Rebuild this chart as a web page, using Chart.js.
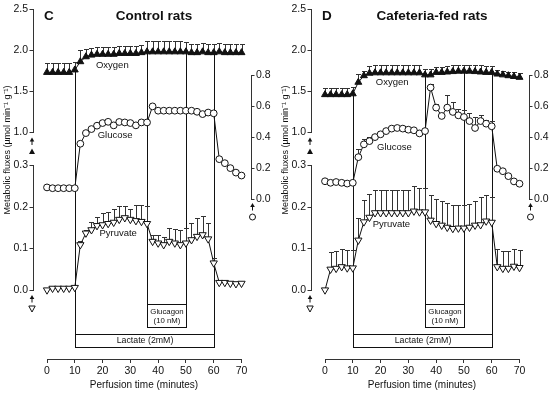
<!DOCTYPE html>
<html><head><meta charset="utf-8">
<script src="https://cdn.jsdelivr.net/npm/chart.js@4/dist/chart.umd.min.js"></script>
<style>
html,body{margin:0;padding:0;background:#fff;}
#wrap{position:relative;width:550px;height:394px;overflow:hidden;background:#fff;}
canvas{position:absolute;top:0;}
#c1{left:0;}
#c2{left:278px;}
</style></head><body>
<div id="wrap"><canvas id="c1" width="278" height="394"></canvas><canvas id="c2" width="272" height="394"></canvas></div>
<script>
// ---------- data ----------
const times = [0,2,4,6,8,10,12,14,16,18,20,22,24,26,28,30,32,34,36,38,40,42,44,46,48,50,52,54,56,58,60,62,64,66,68,70];

const controlOxygen = [1.73,1.73,1.73,1.73,1.73,1.76, 1.86,1.92,1.94,1.95,1.95,1.95,1.95,1.96,1.96,1.96,1.96,1.97, 1.98,1.98,1.98,1.98,1.98,1.98,1.98,1.98, 1.97,1.97,1.98,1.97,1.97,1.98,1.97,1.97,1.97,1.97];
const controlOxygenErr = [0.11,0.11,0.11,0.11,0.11,0.10, 0.14,0.10,0.09,0.09,0.09,0.09,0.09,0.09,0.09,0.09,0.09,0.09, 0.13,0.13,0.13,0.13,0.13,0.13,0.13,0.12, 0.11,0.11,0.11,0.11,0.11,0.11,0.11,0.11,0.11,0.11];
const controlGlucose = [0.075,0.07,0.07,0.07,0.07,0.07, 0.358,0.427,0.453,0.475,0.492,0.50,0.477,0.499,0.496,0.492,0.477,0.496,0.496, 0.60,0.572,0.572,0.572,0.572,0.572,0.572,0.572,0.565,0.55,0.56,0.555, 0.258,0.232,0.20,0.171,0.152];
const controlGlucoseErr = [0,0,0,0,0,0, 0,0,0,0,0,0,0,0,0,0,0,0,0, 0,0,0,0,0,0,0,0,0,0,0,0, 0,0,0,0,0];
const controlPyruvate = [0.0,0.004,0.004,0.004,0.004,0.006, 0.109,0.137,0.145,0.155,0.157,0.160,0.163,0.170,0.174,0.170,0.167,0.165,0.160, 0.117,0.113,0.109,0.117,0.113,0.109,0.113,0.121,0.129,0.133,0.123,0.065, 0.018,0.018,0.016,0.015,0.016];
const controlPyruvateErr = [0,0,0,0,0,0, 0.008,0.008,0.019,0.021,0.029,0.028,0.031,0.032,0.029,0.025,0.039,0.041,0.042, 0.016,0.020,0.019,0.032,0.034,0.036,0.036,0.040,0.045,0.045,0.038,0.012, 0,0,0,0,0];

const cafOxygen = [1.46,1.46,1.46,1.46,1.46,1.47, 1.61,1.69,1.72,1.725,1.725,1.725,1.725,1.725,1.725,1.725,1.725,1.725, 1.70,1.70, 1.73,1.73,1.735,1.74,1.745,1.745,1.745,1.74,1.735,1.73,1.73, 1.71,1.70,1.69,1.68,1.67];
const cafOxygenErr = [0.08,0.08,0.08,0.08,0.08,0.08, 0.10,0.06,0.09,0.09,0.09,0.09,0.09,0.09,0.09,0.09,0.09,0.09, 0.07,0.07, 0.07,0.07,0.07,0.075,0.08,0.08,0.08,0.08,0.08,0.08,0.08, 0.05,0.05,0.05,0.05,0.05];
const cafGlucose = [0.115,0.105,0.11,0.105,0.10,0.105, 0.271,0.354,0.375,0.401,0.419,0.44,0.456,0.46,0.456,0.449,0.445,0.425,0.44, 0.722,0.592,0.538,0.592,0.564,0.542,0.531,0.505,0.46,0.505,0.488,0.471, 0.196,0.18,0.148,0.114,0.099];
const cafGlucoseErr = [0.012,0.01,0.01,0.008,0.008,0.008, 0.054,0.035,0.026,0.01,0.01,0.01,0.01,0.01,0.01,0.01,0.01,0.01,0.01, 0.026,0.026,0,0.08,0.065,0.043,0.043,0.054,0.071,0.037,0.022,0.032, 0,0,0,0,0];
const cafPyruvate = [0.0,0.05,0.052,0.056,0.053,0.053, 0.12,0.164,0.175,0.186,0.186,0.186,0.186,0.186,0.186,0.186,0.19,0.188,0.188, 0.168,0.16,0.156,0.151,0.148,0.149,0.149,0.151,0.156,0.157,0.166,0.163, 0.056,0.052,0.052,0.057,0.054];
const cafPyruvateErr = [0,0.042,0.043,0.042,0.044,0.044, 0.054,0.054,0.056,0.056,0.056,0.056,0.056,0.056,0.056,0.056,0.06,0.058,0.058, 0.062,0.06,0.058,0.059,0.056,0.055,0.055,0.057,0.058,0.066,0.062,0.06, 0.042,0.043,0.042,0.043,0.042];

const timeTicks = [0,10,20,30,40,50,60,70];
const oxygenTicks = [1.0,1.5,2.0,2.5];
const pyruvateTicks = [0.0,0.1,0.2,0.3];
const glucoseTicks = [0.0,0.2,0.4,0.6,0.8];
const lactatePeriod = [10,60];
const glucagonPeriod = [36,50];

// ---------- layout (pixels inside each panel canvas) ----------
const L = {axisL:33, plotL:47, plotR:241.5, axisR:251, o2Top:9, o2Bot:132.5, pyTop:165.5, pyBot:290,
           gluTop:75.5, gluBot:199, xAxisY:359, glucTop:304, glucBot:327, lacTop:334, lacBot:347};
const FONT = '"Liberation Sans", Arial, Helvetica, sans-serif';
const INK = '#111';

function txt(ctx, s, x, y, size, o = {}) {
  ctx.save();
  ctx.font = (o.bold ? 'bold ' : '') + size + 'px ' + FONT;
  ctx.fillStyle = INK;
  ctx.textAlign = o.align || 'center';
  ctx.textBaseline = 'middle';
  if (o.rot) { ctx.translate(x, y); ctx.rotate(o.rot); ctx.fillText(s, 0, 0); }
  else ctx.fillText(s, x, y);
  ctx.restore();
}
function arrowUp(ctx, x, yTop, yBot) {
  ctx.beginPath(); ctx.moveTo(x, yBot); ctx.lineTo(x, yTop + 2); ctx.stroke();
  ctx.beginPath(); ctx.moveTo(x, yTop); ctx.lineTo(x - 2.3, yTop + 4); ctx.lineTo(x + 2.3, yTop + 4); ctx.closePath(); ctx.fill();
}

const layoutPlugin = {
  id: 'fixedLayout',
  afterLayout(chart) {
    const h = chart.height, w = chart.width;
    const set = (s, l, t, r, b) => { s.left = l; s.top = t; s.right = r; s.bottom = b; s.width = r - l; s.height = b - t; s.configure(); };
    set(chart.scales.x, L.plotL, L.xAxisY, L.plotR, h);
    set(chart.scales.yO2, 0, L.o2Top, L.axisL, L.o2Bot);
    set(chart.scales.yPyr, 0, L.pyTop, L.axisL, L.pyBot);
    set(chart.scales.yGlu, L.axisR, L.gluTop, w, L.gluBot);
    chart.chartArea = {left: L.plotL, top: 0, right: L.plotR, bottom: L.xAxisY, width: L.plotR - L.plotL, height: L.xAxisY};
  }
};

const decorPlugin = {
  id: 'decor',
  beforeDatasetsDraw(chart) {
    const ctx = chart.ctx, x = chart.scales.x, yO2 = chart.scales.yO2;
    const p = chart.options.plugins.decor;
    ctx.save();
    ctx.strokeStyle = INK; ctx.lineWidth = 1;
    // event lines from oxygen trace down to the boxes
    const ev = [[lactatePeriod[0], L.lacTop], [glucagonPeriod[0], L.glucTop], [glucagonPeriod[1], L.glucTop], [lactatePeriod[1], L.lacTop]];
    ev.forEach(([t, yb]) => {
      const i = times.indexOf(t);
      const px = Math.round(x.getPixelForValue(t)) + 0.5;
      ctx.beginPath(); ctx.moveTo(px, yO2.getPixelForValue(p.oxygen[i])); ctx.lineTo(px, yb); ctx.stroke();
    });
    // error bars (upper only)
    ctx.strokeStyle = '#333';
    chart.data.datasets.forEach(ds => {
      const ys = chart.scales[ds.yAxisID];
      ds.data.forEach((pt, i) => {
        const e = ds.errors[i];
        if (!e) return;
        const px = Math.round(x.getPixelForValue(pt.x)) + 0.5;
        const y0 = ys.getPixelForValue(pt.y), y1 = Math.round(ys.getPixelForValue(pt.y + e)) + 0.5;
        ctx.beginPath(); ctx.moveTo(px, y0); ctx.lineTo(px, y1);
        ctx.moveTo(px - 2.5, y1); ctx.lineTo(px + 2.5, y1); ctx.stroke();
      });
    });
    ctx.restore();
  },
  afterDraw(chart) {
    const ctx = chart.ctx, x = chart.scales.x;
    const p = chart.options.plugins.decor;
    ctx.save();
    ctx.strokeStyle = INK; ctx.fillStyle = INK; ctx.lineWidth = 1;
    // titles
    txt(ctx, p.letter, 44, 16, 13.5, {bold: true, align: 'left'});
    txt(ctx, p.title, 154, 16, 13.5, {bold: true});
    // y-axis title
    txt(ctx, 'Metabolic fluxes (\u00b5mol min\u207b\u00b9 g\u207b\u00b9)', 8, 150, 9, {rot: -Math.PI / 2});
    // x-axis title
    txt(ctx, 'Perfusion time (minutes)', 144, 385, 10);
    // series labels
    const lab = (s, pos, scaleId) => txt(ctx, s, x.getPixelForValue(pos[0]), chart.scales[scaleId].getPixelForValue(pos[1]), 9.5);
    lab('Oxygen', p.labels.oxygen, 'yO2');
    lab('Glucose', p.labels.glucose, 'yGlu');
    lab('Pyruvate', p.labels.pyruvate, 'yPyr');
    // treatment boxes
    const box = (t0, t1, yt, yb) => {
      const a = Math.round(x.getPixelForValue(t0)) + 0.5, b = Math.round(x.getPixelForValue(t1)) + 0.5;
      ctx.fillStyle = '#fff'; ctx.fillRect(a, yt + 0.5, b - a, yb - yt);
      ctx.strokeStyle = INK; ctx.strokeRect(a, yt + 0.5, b - a, yb - yt);
      ctx.fillStyle = INK;
      return (a + b) / 2;
    };
    let cx = box(glucagonPeriod[0], glucagonPeriod[1], L.glucTop, L.glucBot);
    txt(ctx, 'Glucagon', cx, L.glucTop + 7.5, 7.8);
    txt(ctx, '(10 nM)', cx, L.glucTop + 16.5, 7.8);
    cx = box(lactatePeriod[0], lactatePeriod[1], L.lacTop, L.lacBot);
    txt(ctx, 'Lactate (2mM)', cx, (L.lacTop + L.lacBot) / 2 + 0.5, 8.8);
    // axis indicators (arrow + symbol)
    ctx.strokeStyle = INK; ctx.fillStyle = INK;
    const ax = L.axisL - 1;
    arrowUp(ctx, ax, L.o2Bot + 5, L.o2Bot + 12.5);
    ctx.beginPath(); ctx.moveTo(ax, L.o2Bot + 16); ctx.lineTo(ax - 3, L.o2Bot + 21.5); ctx.lineTo(ax + 3, L.o2Bot + 21.5); ctx.closePath(); ctx.fill();
    arrowUp(ctx, ax, L.pyBot + 5, L.pyBot + 12.5);
    ctx.beginPath(); ctx.moveTo(ax - 3.2, L.pyBot + 16); ctx.lineTo(ax + 3.2, L.pyBot + 16); ctx.lineTo(ax, L.pyBot + 22); ctx.closePath();
    ctx.fillStyle = '#fff'; ctx.fill(); ctx.stroke(); ctx.fillStyle = INK;
    const gx = L.axisR + 1.5;
    arrowUp(ctx, gx, L.gluBot + 4, L.gluBot + 11.5);
    ctx.beginPath(); ctx.arc(gx, L.gluBot + 18, 3, 0, Math.PI * 2); ctx.fillStyle = '#fff'; ctx.fill(); ctx.stroke();
    ctx.restore();
  }
};

function tickScale(arr) {
  return function (scale) { scale.ticks = arr.map(v => ({value: v})); };
}
const axisCommon = {
  grid: {drawOnChartArea: false, drawTicks: true, tickLength: 3.5, color: '#333', lineWidth: 1},
  border: {display: true, color: '#333', width: 1},
};

function makePanel(id, d) {
  const series = (vals) => times.map((t, i) => ({x: t, y: vals[i]}));
  const common = {showLine: true, borderColor: INK, borderWidth: 1, tension: 0, clip: false, pointBorderColor: INK, pointBorderWidth: 1, pointHoverRadius: 0};
  return new Chart(document.getElementById(id), {
    type: 'line',
    data: {
      datasets: [
        Object.assign({label: 'Oxygen', data: series(d.oxygen), errors: d.oxygenErr, yAxisID: 'yO2', pointStyle: 'triangle', pointRadius: 4, pointBackgroundColor: INK}, common),
        Object.assign({label: 'Glucose', data: series(d.glucose), errors: d.glucoseErr, yAxisID: 'yGlu', pointStyle: 'circle', pointRadius: 3.4, pointBackgroundColor: '#fff'}, common),
        Object.assign({label: 'Pyruvate', data: series(d.pyruvate), errors: d.pyruvateErr, yAxisID: 'yPyr', pointStyle: 'triangle', pointRotation: 180, pointRadius: 4.2, pointBackgroundColor: '#fff'}, common),
      ]
    },
    options: {
      responsive: false, animation: false, devicePixelRatio: 1,
      events: [],
      layout: {padding: 0},
      plugins: {legend: {display: false}, tooltip: {enabled: false}, title: {display: false},
        decor: {letter: d.letter, title: d.title, oxygen: d.oxygen, labels: d.labels}},
      scales: {
        x: Object.assign({type: 'linear', position: 'bottom', min: 0, max: 70, afterBuildTicks: tickScale(timeTicks),
          ticks: {autoSkip: false, maxRotation: 0, padding: 2, color: INK, font: {family: FONT, size: 10.5}, callback: v => String(v)}}, axisCommon,
          {grid: {drawOnChartArea: false, drawTicks: true, tickLength: 4, color: '#333'}}),
        yO2: Object.assign({type: 'linear', position: 'left', min: 1.0, max: 2.5, afterBuildTicks: tickScale(oxygenTicks),
          ticks: {padding: 1.5, color: INK, font: {family: FONT, size: 10.5}, callback: v => v.toFixed(1)}}, axisCommon),
        yPyr: Object.assign({type: 'linear', position: 'left', min: 0, max: 0.3, afterBuildTicks: tickScale(pyruvateTicks),
          ticks: {padding: 1.5, color: INK, font: {family: FONT, size: 10.5}, callback: v => v.toFixed(1)}}, axisCommon),
        yGlu: Object.assign({type: 'linear', position: 'right', min: 0, max: 0.8, afterBuildTicks: tickScale(glucoseTicks),
          ticks: {padding: 1.5, color: INK, font: {family: FONT, size: 10.5}, callback: v => v.toFixed(1)}}, axisCommon),
      }
    },
    plugins: [layoutPlugin, decorPlugin]
  });
}

makePanel('c1', {letter: 'C', title: 'Control rats',
  oxygen: controlOxygen, oxygenErr: controlOxygenErr, glucose: controlGlucose, glucoseErr: controlGlucoseErr,
  pyruvate: controlPyruvate, pyruvateErr: controlPyruvateErr,
  labels: {oxygen: [23.5, 1.82], glucose: [24.5, 0.41], pyruvate: [25.6, 0.137]}});
makePanel('c2', {letter: 'D', title: 'Cafeteria-fed rats',
  oxygen: cafOxygen, oxygenErr: cafOxygenErr, glucose: cafGlucose, glucoseErr: cafGlucoseErr,
  pyruvate: cafPyruvate, pyruvateErr: cafPyruvateErr,
  labels: {oxygen: [24.2, 1.61], glucose: [25, 0.334], pyruvate: [23.9, 0.159]}});
</script>
</body></html>
